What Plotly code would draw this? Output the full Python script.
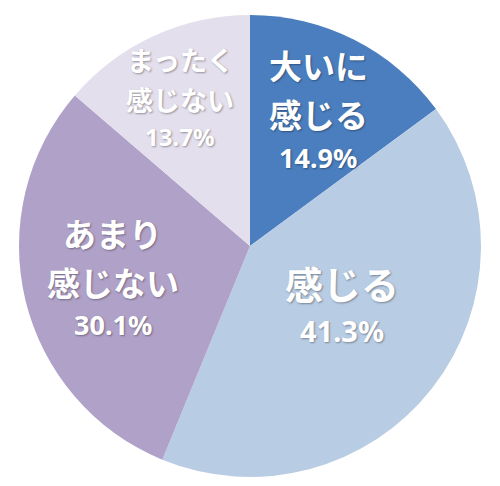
import numpy as np
import plotly.graph_objects as go

# slice data (clockwise from 12 o'clock)
labels = ["大いに感じる", "感じる", "あまり感じない", "まったく感じない"]
label_lines = [["大いに", "感じる"], ["感じる"], ["あまり", "感じない"], ["まったく", "感じない"]]
values = [14.9, 41.3, 30.1, 13.7]
colors = ["#4a7ebf", "#b8cce4", "#b0a1c8", "#e4dfed"]

# label styling per slice
name_sizes = [33, 38, 33, 27]
pct_sizes = [27, 29, 27, 24]
radial_pos = [0.655, 0.47, 0.61, 0.705]
nudge = [(0, 0), (6, 6), (0, 0), (-2, 0)]  # small pixel tweaks (x, up)

# page body has an 8px margin, so the figure is nudged up/left via margins
W, H = 500, 486
margin = dict(l=0, r=16, t=7, b=17)
plot_w = W - margin["l"] - margin["r"]
plot_h = H - margin["t"] - margin["b"]
R = min(plot_w, plot_h) / 2

fig = go.Figure(go.Pie(
    labels=labels,
    values=values,
    sort=False,
    direction="clockwise",
    rotation=0,
    marker=dict(colors=colors, line=dict(width=0)),
    textinfo="none",
    hoverinfo="label+percent",
    showlegend=False,
))

JP_FONT = "Noto Sans CJK JP, sans-serif"
NUM_FONT = "Noto Sans, sans-serif"
SHADOW = "1px 1px 2px rgba(0,0,0,0.35)"
JP_BOX, NUM_BOX = 1.45, 1.36   # line box heights (em) of the two fonts

total = sum(values)
start = 0.0
annotations = []
for i, v in enumerate(values):
    mid = (start + v / 2) / total * 2 * np.pi
    start += v
    r = radial_pos[i] * R
    cx = 0.5 + r * np.sin(mid) / plot_w
    cy = 0.5 + r * np.cos(mid) / plot_h

    ns, ps = name_sizes[i], pct_sizes[i]
    lines = [(t, ns, JP_FONT) for t in label_lines[i]]
    lines.append((f"{v:.1f}%", ps, NUM_FONT))

    # vertical centers of the lines, measured downward from the first line
    offsets = [0.0]
    for k in range(1, len(lines)):
        a, b = lines[k - 1], lines[k]
        ha = a[1] * (JP_BOX if a[2] == JP_FONT else NUM_BOX)
        hb = b[1] * (JP_BOX if b[2] == JP_FONT else NUM_BOX)
        offsets.append(offsets[-1] + (ha + hb) / 2 + 1)
    block_mid = offsets[-1] / 2

    for (txt, size, fam), off in zip(lines, offsets):
        annotations.append(dict(
            x=cx, y=cy, xref="paper", yref="paper",
            xanchor="center", yanchor="middle",
            xshift=nudge[i][0], yshift=nudge[i][1] + block_mid - off,
            text=txt, showarrow=False,
            font=dict(family=fam, size=size, color="white",
                      weight="bold", shadow=SHADOW),
        ))

fig.update_layout(
    width=W, height=H,
    margin=margin,
    paper_bgcolor="white",
    plot_bgcolor="white",
    annotations=annotations,
)

fig.write_html("out.html")
